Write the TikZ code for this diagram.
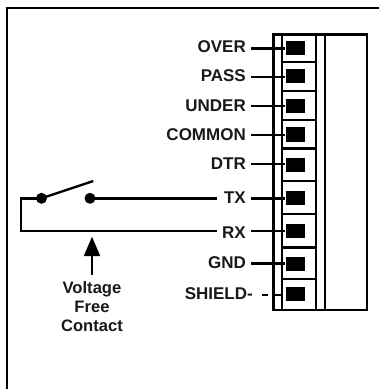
\documentclass[tikz,border=0pt]{standalone}
\usepackage{fontspec}
\setmainfont{Liberation Sans}
\usetikzlibrary{arrows.meta}
\begin{document}
\begin{tikzpicture}[x=1pt,y=-1pt,
  wire/.style={line width=2.4pt,line cap=butt},
  box/.style={line width=2.6pt},
  frame/.style={line width=2.8pt},
  pin/.style={fill=black,draw=none,minimum width=19.5pt,minimum height=14.7pt,inner sep=0pt},
  lab/.style={font=\fontsize{17pt}{18pt}\selectfont\bfseries,anchor=east,inner sep=0pt,text=black!90},
  capt/.style={font=\fontsize{16.6pt}{19pt}\selectfont\bfseries,align=center,inner sep=0pt,text=black!90},
  dot/.style={circle,fill=black,draw=none,minimum size=11pt,inner sep=0pt}]
\useasboundingbox (0,0) rectangle (379,389);
\fill[white] (0,0) rectangle (379,389);
\draw[frame] (7,389) -- (7,8) -- (379,8);
% terminal block
\draw[box] (273.5,34.5) rectangle (367,310);
\foreach \x in {282,316,325}{\draw[box] (\x,34.5) -- (\x,310);}
\foreach \y in {62,91,120,148.5,181,214,247.5,279}{\draw[box] (282,\y) -- (316,\y);}
% pins and labels
\foreach \n/\y in {o/48,p/76,u/106,c/134.5,d/165,t/198,r/231,g/264}{
  \node[pin] (pin\n) at (295.3,\y) {};
}
\node[pin] (pins) at (295.3,294) {};
\node[lab] (lo) at (246,46.7) {OVER};
\node[lab] (lp) at (246,76) {PASS};
\node[lab] (lu) at (246,106) {UNDER};
\node[lab] (lc) at (246,134.5) {COMMON};
\node[lab] (ld) at (246,164) {DTR};
\node[lab] (lt) at (246,198) {TX};
\node[lab] (lr) at (246,232.5) {RX};
\node[lab] (lg) at (246,263) {GND};
\node[lab] (ls) at (253,294) {SHIELD-};
\foreach \b/\y in {pino/48.3,pinp/76.7,pinu/106,pinc/135,pind/164,pint/198.3,pinr/231,ping/263.3}{
  \draw[wire] (251,\y) -- (\b.west |- 0,\y);
}
\draw[wire] (262,295) -- (268,295);
\draw[wire] (274,295) -- (282,295);
% switch
\node[dot] (s1) at (41.5,198.3) {};
\node[dot] (s2) at (90,198.3) {};
\coordinate (sw) at (93.3,181);
\coordinate (c1) at (21,198.3);
\coordinate (c2) at (21,231);
\coordinate (rxend) at (217,231);
\coordinate (txend) at (217,198.3);
\draw[wire] (s1.center) -- (c1) -- (c2) -- (rxend);
\draw[wire] (s2.center) -- (txend);
\draw[wire] (s1.center) -- (sw);
% arrow and caption
\node[capt] (cap) at (92,307) {Voltage\\Free\\Contact};
\coordinate (tip) at (92,236.7);
\draw[line width=2.2pt,-{Triangle[length=19.5pt,width=16pt]}] (92,275) -- (tip);
\end{tikzpicture}
\end{document}
